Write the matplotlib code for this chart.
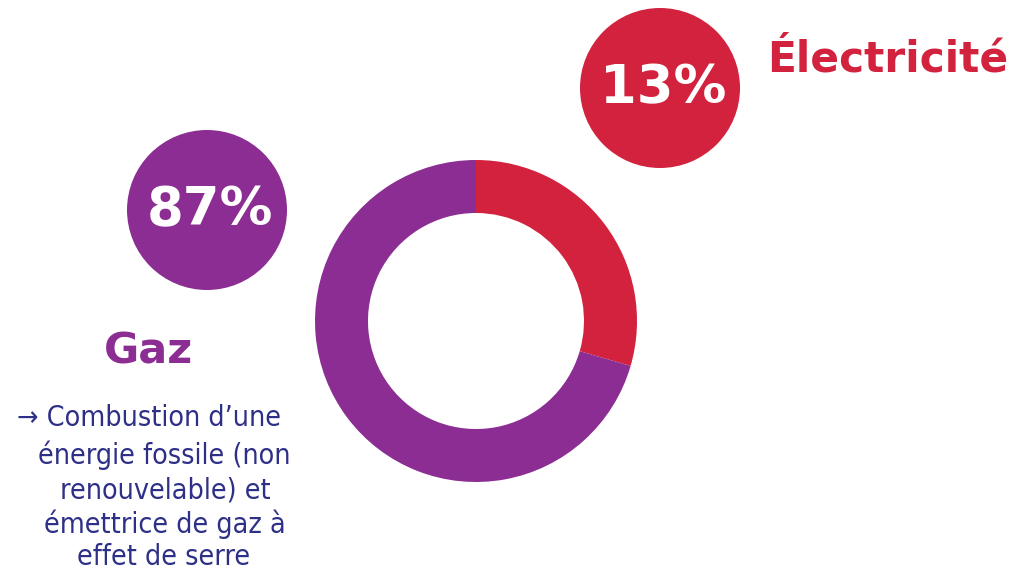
import matplotlib.pyplot as plt
from matplotlib.patches import Circle

# values as they appear in the picture
categories = ["Électricité", "Gaz"]
share_labels = ["13%", "87%"]
ring_shares = [29.5, 70.5]  # ring as drawn (clockwise from 12 o'clock)
colors = ["#D2223E", "#8B2D92"]
note_lines = ["\u2192 Combustion d\u2019une", "énergie fossile (non",
              "renouvelable) et", "émettrice de gaz à", "effet de serre"]

W, H = 1015, 572

fig = plt.figure(figsize=(W / 100, H / 100), dpi=100)
ax = fig.add_axes([0, 0, 1, 1])

def fy(y):
  # pixel row -> data y
  return H - y

ax.pie(ring_shares, colors=colors, startangle=90, counterclock=False,
       center=(476, fy(321)), radius=161,
       wedgeprops=dict(width=53, linewidth=0))

# bubbles with the percentages
bubbles = [(660, 88), (207, 210)]
for (bx, by), lab, col in zip(bubbles, share_labels, colors):
  ax.add_patch(Circle((bx, fy(by)), 80, color=col, lw=0))
  ax.text(bx + 3, fy(by), lab, color="white", fontsize=38, fontweight="bold",
          ha="center", va="center", family="DejaVu Sans")

ax.text(888, fy(60), categories[0], color=colors[0], fontsize=30.5,
        fontweight="bold", ha="center", va="center", family="DejaVu Sans")
ax.text(148, fy(352), categories[1], color=colors[1], fontsize=31,
        fontweight="bold", ha="center", va="center", family="DejaVu Sans")

line_y = [418, 455, 490, 524, 557]
line_x = [149, 164, 165, 165, 164]
for txt, lx, ly in zip(note_lines, line_x, line_y):
  ax.text(lx, fy(ly), txt, color="#2E2F86", fontsize=20.5, ha="center",
          va="center", family="DejaVu Sans", stretch="condensed")

ax.set_xlim(0, W)
ax.set_ylim(0, H)
ax.set_aspect("auto")
ax.axis("off")

plt.savefig("out.png", dpi=100)
